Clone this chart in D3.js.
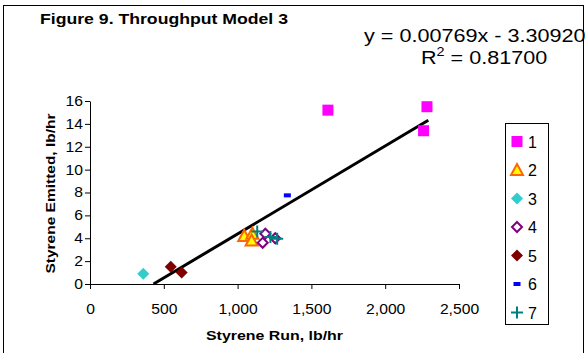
<!DOCTYPE html>
<html>
<head>
<meta charset="utf-8">
<script src="https://cdn.jsdelivr.net/npm/d3@7"></script>
<style>
  body { margin: 0; background: #fff; }
  svg { font-family: Arial, "Liberation Sans", sans-serif; }
</style>
</head>
<body>
<div id="main"></div>
<script>
//data
const seriesNames = ['1', '2', '3', '4', '5', '6', '7'];
const s1 = [[1612, 15.2], [2283, 15.5], [2260, 13.4]];
const s2 = [[1045, 4.2], [1100, 4.4], [1095, 3.8]];
const s3 = [[361, 0.9]];
const s4 = [[1188, 4.4], [1170, 3.6], [1255, 4.0]];
const s5 = [[547, 1.5], [621, 1.0]];
const s6 = [[1337, 7.75]];
const s7 = [[1133, 4.6], [1222, 4.1], [1268, 3.95]];
const xTicks = [0, 500, 1000, 1500, 2000, 2500];
const yTicks = [0, 2, 4, 6, 8, 10, 12, 14, 16];
const slope = 0.00769, intercept = -3.30920, r2 = 0.81700;

const allSeries = [s1, s2, s3, s4, s5, s6, s7];

//constants
const W = 587, H = 353;
const margin = {top: 101, left: 90};
const w = 369, h = 183;
const sx = 1.12; // the original text runs a bit wide

const svg = d3.select('#main')
  .append('svg')
  .attr('width', W)
  .attr('height', H);

//outer frame
svg.append('rect')
  .attr('x', 3.5).attr('y', 5.5)
  .attr('width', 580).attr('height', 360)
  .attr('fill', 'none')
  .attr('stroke', '#000')
  .attr('stroke-width', 1);

const g = svg.append('g')
  .attr('transform', `translate(${margin.left}, ${margin.top})`);

//scales
const x = d3.scaleLinear().domain([0, 2500]).range([0, w]);
const y = d3.scaleLinear().domain([0, 16]).range([h, 0]);

//axes
const xAxis = d3.axisBottom(x).tickValues(xTicks).tickSize(5).tickSizeOuter(0)
  .tickFormat(d3.format(','));
const yAxis = d3.axisLeft(y).tickValues(yTicks).tickSize(5).tickSizeOuter(0);

const gx = g.append('g')
  .attr('transform', `translate(0, ${h})`)
  .call(xAxis);
gx.selectAll('text')
  .attr('font-size', '14px')
  .attr('font-family', 'Arial, "Liberation Sans", sans-serif')
  .attr('fill', '#000')
  .attr('y', 30)
  .attr('dy', 0)
  .attr('transform', `scale(${sx},1)`);

const gy = g.append('g').call(yAxis);
gy.selectAll('text')
  .attr('font-size', '14px')
  .attr('font-family', 'Arial, "Liberation Sans", sans-serif')
  .attr('fill', '#000')
  .attr('x', -7 / sx)
  .attr('transform', `scale(${sx},1)`);

[gx, gy].forEach(a => {
  a.select('.domain').attr('stroke', '#000');
  a.selectAll('.tick line').attr('stroke', '#000');
});

//trendline
const x0 = -intercept / slope;
const x1 = 2292;
g.append('line')
  .attr('x1', x(x0)).attr('y1', y(0))
  .attr('x2', x(x1)).attr('y2', y(slope * x1 + intercept))
  .attr('stroke', '#000')
  .attr('stroke-width', 3);

//markers
const styles = [
  {type: 'square', fill: '#FF00FF', stroke: 'none'},
  {type: 'triangle', fill: '#FFFF00', stroke: '#FF6600'},
  {type: 'diamond', fill: '#33CCCC', stroke: 'none'},
  {type: 'diamond', fill: 'none', stroke: '#800080'},
  {type: 'diamond', fill: '#800000', stroke: 'none'},
  {type: 'dash', fill: '#0000FF', stroke: 'none'},
  {type: 'plus', fill: 'none', stroke: '#008080'}
];

function drawMarker (sel, st) {
  if (st.type === 'square') {
    sel.append('rect').attr('x', -5.5).attr('y', -5.5).attr('width', 11).attr('height', 11)
      .attr('fill', st.fill);
  } else if (st.type === 'triangle') {
    sel.append('path').attr('d', 'M0,-6L6,5L-6,5Z')
      .attr('fill', st.fill).attr('stroke', st.stroke).attr('stroke-width', 2);
  } else if (st.type === 'diamond') {
    const filled = st.fill !== 'none';
    sel.append('path').attr('d', filled ? 'M0,-6L6,0L0,6L-6,0Z' : 'M0,-5L5,0L0,5L-5,0Z')
      .attr('fill', st.fill)
      .attr('stroke', st.stroke)
      .attr('stroke-width', 2);
  } else if (st.type === 'dash') {
    sel.append('rect').attr('x', -3.5).attr('y', -2).attr('width', 7).attr('height', 4)
      .attr('fill', st.fill);
  } else if (st.type === 'plus') {
    sel.append('path').attr('d', 'M-6,0H6M0,-6V6')
      .attr('stroke', st.stroke).attr('stroke-width', 2);
  }
}

allSeries.forEach((data, i) => {
  g.append('g')
    .selectAll('g')
    .data(data)
    .enter()
    .append('g')
    .attr('transform', d => `translate(${x(d[0])}, ${y(d[1])})`)
    .each(function () { drawMarker(d3.select(this), styles[i]); });
});

//titles
svg.append('text')
  .attr('x', 40).attr('y', 24)
  .attr('font-size', '15px').attr('font-weight', 'bold')
  .attr('textLength', 248).attr('lengthAdjust', 'spacingAndGlyphs')
  .text('Figure 9. Throughput Model 3');

svg.append('text')
  .attr('x', margin.left + w / 2).attr('y', 340)
  .attr('text-anchor', 'middle')
  .attr('font-size', '13px').attr('font-weight', 'bold')
  .attr('textLength', 137).attr('lengthAdjust', 'spacingAndGlyphs')
  .text('Styrene Run, lb/hr');

svg.append('text')
  .attr('transform', `translate(55, ${margin.top + h / 2 + 1}) rotate(-90)`)
  .attr('text-anchor', 'middle')
  .attr('font-size', '13px').attr('font-weight', 'bold')
  .attr('textLength', 160).attr('lengthAdjust', 'spacingAndGlyphs')
  .text('Styrene Emitted, lb/hr');

//equation (runs up to the frame on the right)
const eq = svg.append('g').attr('transform', 'translate(364, 0) scale(1.2,1)');
eq.append('text')
  .attr('x', 0).attr('y', 42)
  .attr('font-size', '18px')
  .text(`y = ${slope.toFixed(5)}x - ${Math.abs(intercept).toFixed(5)}`);

const r2Text = eq.append('text')
  .attr('x', (421 - 364) / 1.2).attr('y', 64)
  .attr('font-size', '18px');
r2Text.append('tspan').text('R');
r2Text.append('tspan').attr('dy', -8).attr('font-size', '12px').text('2');
r2Text.append('tspan').attr('dy', 8).text(` = ${r2.toFixed(5)}`);

//legend
const legend = svg.append('g').attr('transform', 'translate(505.5, 123.5)');
legend.append('rect')
  .attr('width', 43).attr('height', 201)
  .attr('fill', '#fff').attr('stroke', '#000');

const items = legend.selectAll('g.item')
  .data(seriesNames)
  .enter()
  .append('g')
  .attr('class', 'item')
  .attr('transform', (d, i) => `translate(11.5, ${18 + i * 28.5})`);

items.each(function (d, i) { drawMarker(d3.select(this), styles[i]); });

items.append('text')
  .attr('x', 11).attr('y', 6)
  .attr('font-size', '16px')
  .text(d => d);
</script>
</body>
</html>
